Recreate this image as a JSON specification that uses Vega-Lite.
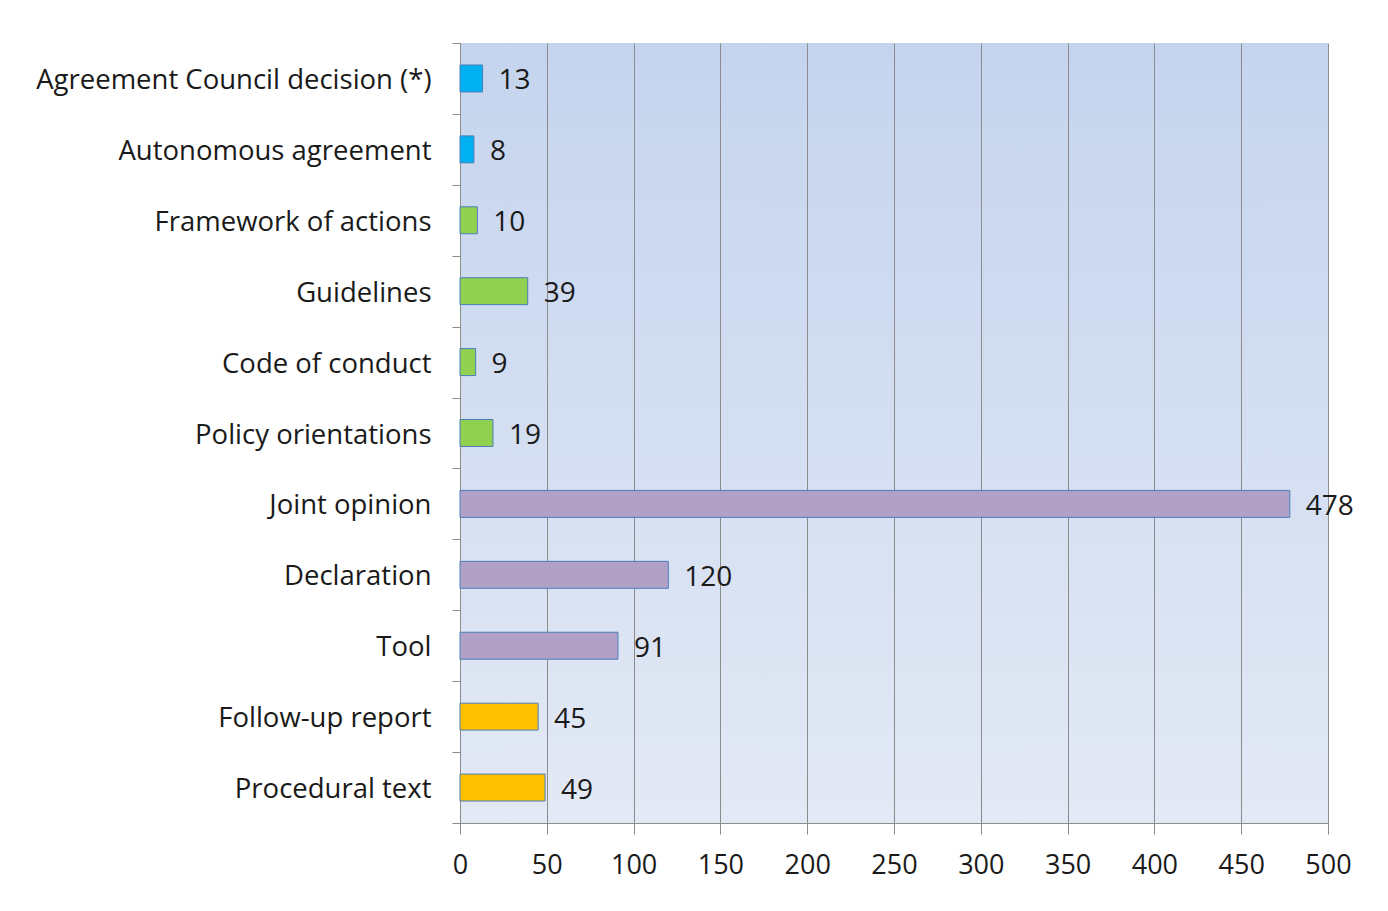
{
  "$schema": "https://vega.github.io/schema/vega-lite/v6.json",
  "autosize": "none",
  "width": 868,
  "height": 780,
  "padding": {"left": 460, "top": 43, "right": 60, "bottom": 88},
  "background": "white",
  "config": {
    "font": "Open Sans",
    "view": {
      "stroke": null,
      "fill": {"gradient": "linear", "x1": 0, "y1": 0, "x2": 0, "y2": 1, "stops": [{"offset": 0, "color": "#c5d4ee"}, {"offset": 1, "color": "#e3e9f5"}]}
    }
  },
  "data": {
    "values": [
      {"category": "Agreement Council decision (*)", "count": 13, "group": "Agreements"},
      {"category": "Autonomous agreement", "count": 8, "group": "Agreements"},
      {"category": "Framework of actions", "count": 10, "group": "Process-oriented texts"},
      {"category": "Guidelines", "count": 39, "group": "Process-oriented texts"},
      {"category": "Code of conduct", "count": 9, "group": "Process-oriented texts"},
      {"category": "Policy orientations", "count": 19, "group": "Process-oriented texts"},
      {"category": "Joint opinion", "count": 478, "group": "Joint opinions, declarations and tools"},
      {"category": "Declaration", "count": 120, "group": "Joint opinions, declarations and tools"},
      {"category": "Tool", "count": 91, "group": "Joint opinions, declarations and tools"},
      {"category": "Follow-up report", "count": 45, "group": "Procedural texts and follow-up reports"},
      {"category": "Procedural text", "count": 49, "group": "Procedural texts and follow-up reports"}
    ]
  },
  "encoding": {
    "y": {
      "field": "category",
      "type": "nominal",
      "sort": null,
      "scale": {"paddingInner": 0, "paddingOuter": 0},
      "axis": {
        "title": null,
        "tickBand": "extent",
        "tickSize": 8,
        "tickColor": "#8c8c8c",
        "domainColor": "#8c8c8c",
        "labelPadding": 21,
        "labelOffset": 2,
        "labelFontSize": 27.5,
        "labelColor": "#1a1a1a",
        "labelLimit": 500,
        "grid": false
      }
    },
    "x": {
      "field": "count",
      "type": "quantitative",
      "scale": {"domain": [0, 500], "nice": false},
      "axis": {
        "title": null,
        "values": [0, 50, 100, 150, 200, 250, 300, 350, 400, 450, 500],
        "grid": true,
        "gridColor": "#8c8c8c",
        "gridOpacity": 1,
        "tickSize": 11,
        "tickColor": "#8c8c8c",
        "domainColor": "#8c8c8c",
        "labelPadding": 18,
        "labelFontSize": 27,
        "labelColor": "#1a1a1a",
        "labelFlush": false
      }
    }
  },
  "layer": [
    {
      "mark": {"type": "bar", "height": {"band": 0.38}, "stroke": "#4a7ebb", "strokeWidth": 1},
      "encoding": {
        "color": {
          "field": "group",
          "type": "nominal",
          "scale": {
            "domain": ["Agreements", "Process-oriented texts", "Joint opinions, declarations and tools", "Procedural texts and follow-up reports"],
            "range": ["#00b0f0", "#92d050", "#b2a1c7", "#ffc000"]
          },
          "legend": null
        }
      }
    },
    {
      "mark": {"type": "text", "align": "left", "baseline": "middle", "dx": 16, "dy": 3, "fontSize": 28, "color": "#1a1a1a"},
      "encoding": {
        "text": {"field": "count", "type": "quantitative"}
      }
    }
  ]
}
